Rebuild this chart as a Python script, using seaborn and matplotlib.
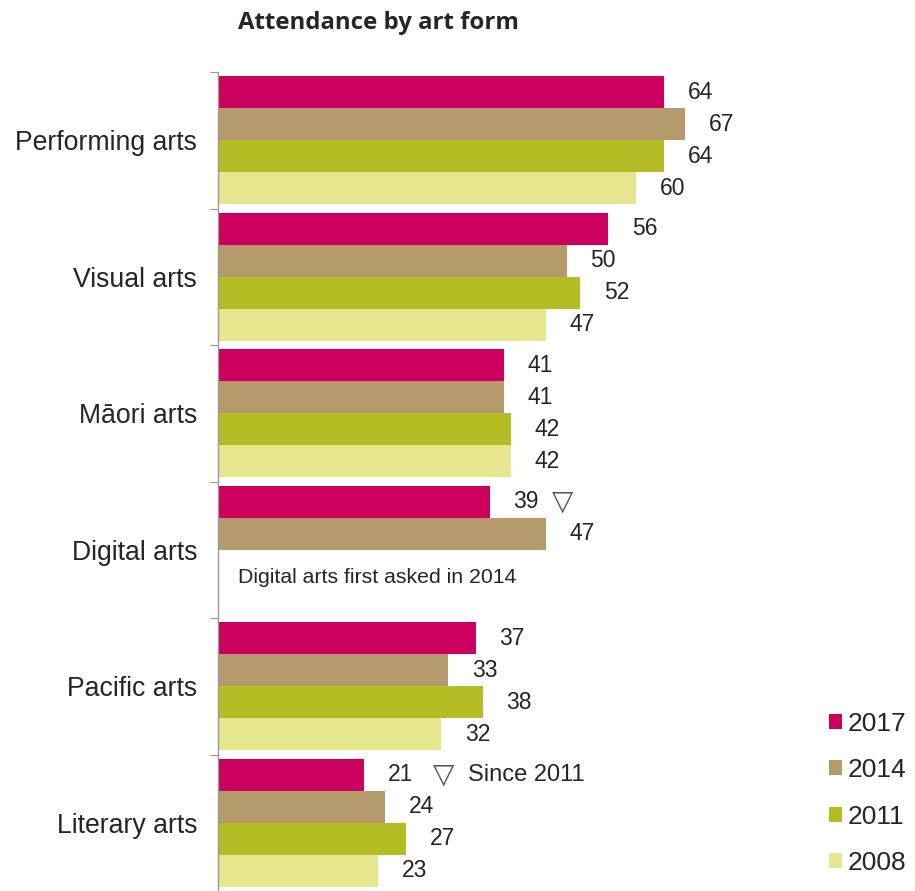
import numpy as np
import pandas as pd
import matplotlib
matplotlib.use('Agg')
import matplotlib.pyplot as plt
import seaborn as sns

sns.set_style('white')
plt.rcParams['font.family'] = ['Liberation Sans', 'DejaVu Sans']

# データ
categories = ['Performing arts', 'Visual arts', 'Māori arts', 'Digital arts', 'Pacific arts', 'Literary arts']
years = ['2017', '2014', '2011', '2008']
v2017 = [64, 56, 41, 39, 37, 21]
v2014 = [67, 50, 41, 47, 33, 24]
v2011 = [64, 52, 42, np.nan, 38, 27]
v2008 = [60, 47, 42, np.nan, 32, 23]
colors = ['#CC005E', '#B59A6B', '#B4BE24', '#E6E68E']

rows = []
for year, vals in zip(years, [v2017, v2014, v2011, v2008]):
    for cat, v in zip(categories, vals):
        rows.append({'category': cat, 'year': year, 'value': v})
df = pd.DataFrame(rows).dropna()

fig = plt.figure(figsize=(9.15, 8.91), dpi=100)
ax = fig.add_axes([218 / 915, 0.0, 1 - 218 / 915, 1 - 72 / 891])

width = 0.94
sns.barplot(data=df, y='category', x='value', hue='year', order=categories,
            hue_order=years, palette=colors, orient='h', width=width,
            linewidth=0, saturation=1, ax=ax)

# 値ラベル
for cont in ax.containers:
    ax.bar_label(cont, fmt='%.0f', padding=17, fontsize=16.5)

ax.set_xlim(0, 100)
ax.set_ylim(len(categories) - 0.5, -0.5)

# 軸の設定
for s in ['top', 'right', 'bottom']:
    ax.spines[s].set_visible(False)
ax.spines['left'].set_color('#999999')
ax.spines['left'].set_linewidth(1)
ax.set_xticks([])
ax.set_xlabel('')
ax.set_ylabel('')
ax.set_yticks(np.arange(len(categories) + 1) - 0.5)
ax.set_yticklabels([])
ax.tick_params(axis='y', which='major', length=6, color='#999999', direction='out', left=True)
ax.set_yticks(np.arange(len(categories)), minor=True)
ax.set_yticklabels(categories, minor=True, fontsize=19.2)
ax.tick_params(axis='y', which='minor', length=0, pad=15)

# 注記
slot = width / 4
ax.text(49.5, 3 - 1.5 * slot, '▽', fontsize=20, color='#555555', family='DejaVu Sans',
        ha='center', va='center')
ax.text(32.4, 5 - 1.5 * slot, '▽', fontsize=20, color='#555555', family='DejaVu Sans',
        ha='center', va='center')
ax.text(35.9, 5 - 1.5 * slot, 'Since 2011', fontsize=17, ha='left', va='center')
ax.text(2.9, 3 + 0.86 * slot, 'Digital arts first asked in 2014', fontsize=15.3,
        ha='left', va='center')

# 凡例
handles, labels = ax.get_legend_handles_labels()
ax.legend(handles, labels, loc='lower right', bbox_to_anchor=(906 / 915, 16 / 891),
          bbox_transform=fig.transFigure, frameon=False, fontsize=19,
          handlelength=0.5, handleheight=0.5, handletextpad=0.2, labelspacing=0.85,
          borderpad=0, borderaxespad=0)

fig.text(238 / 915, 1 - 23 / 891, 'Attendance by art form', fontsize=17.3,
         fontweight='bold', family=['Open Sans', 'DejaVu Sans'], ha='left', va='center')

fig.savefig('out.png', dpi=100)
